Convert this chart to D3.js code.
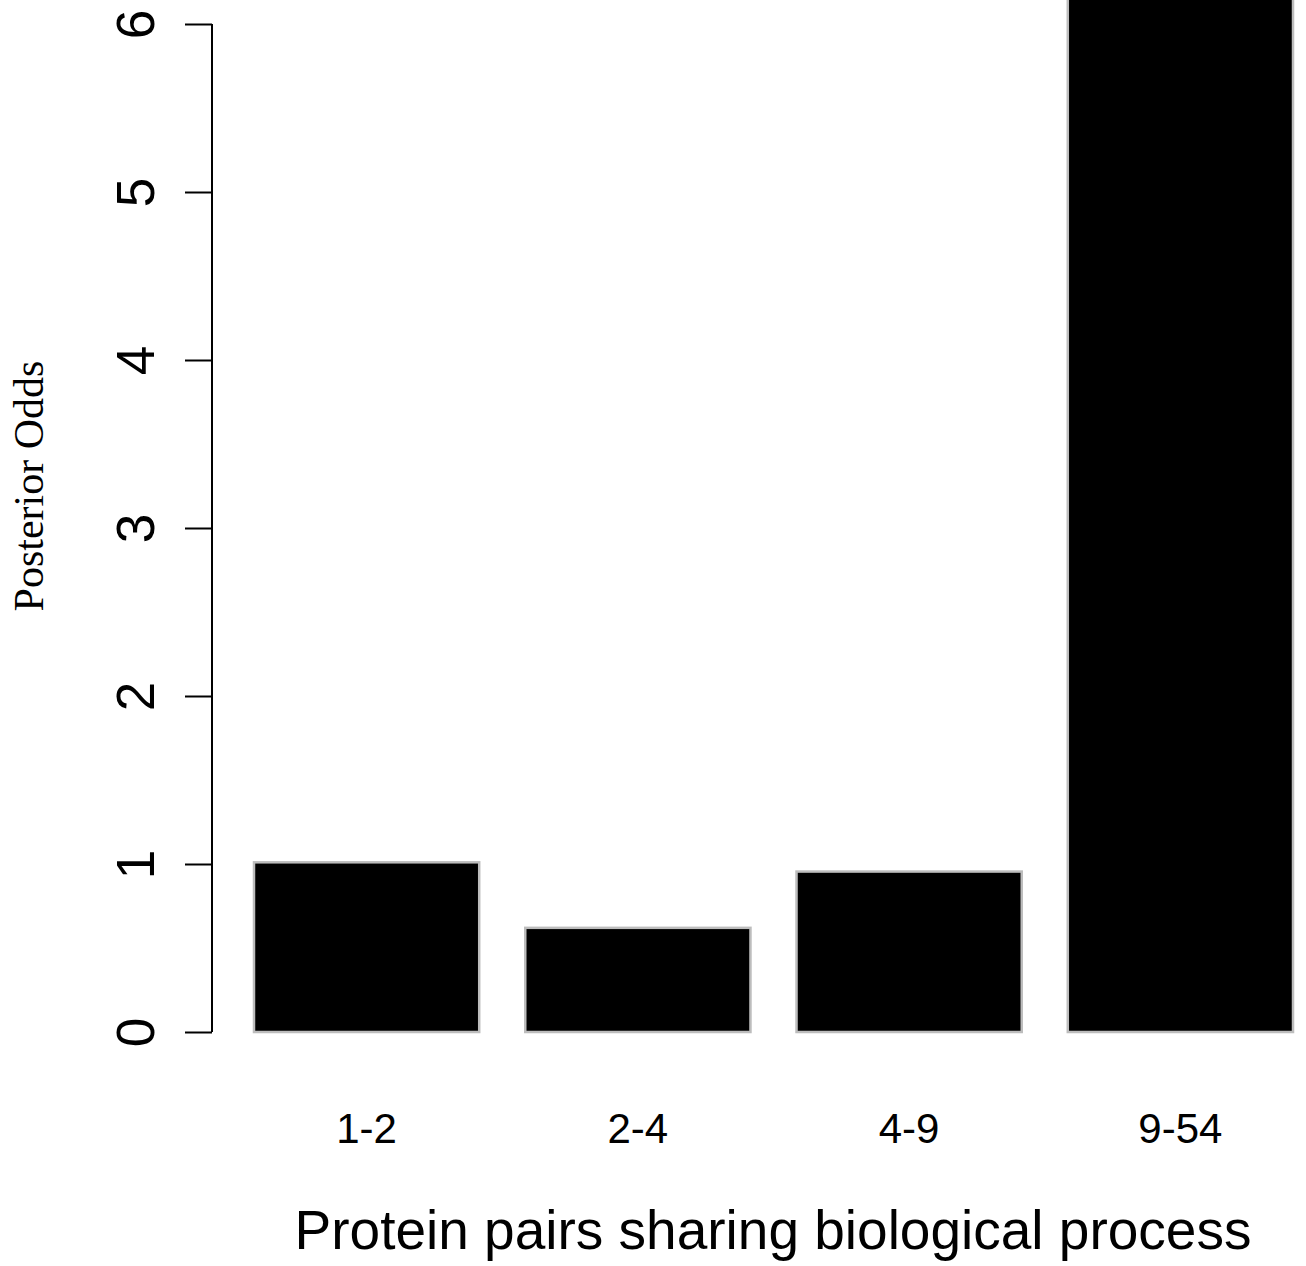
<!DOCTYPE html>
<html>
<head>
<meta charset="utf-8">
<script src="https://cdn.jsdelivr.net/npm/d3@7"></script>
<style>
  html, body { margin: 0; padding: 0; background: #fff; }
  svg { display: block; }
</style>
</head>
<body>
<script>
// Posterior odds by number of protein pairs sharing a biological process
const categories = ["1-2", "2-4", "4-9", "9-54"];
const posteriorOdds = [1.01, 0.62, 0.955, 7.2];
const yTicks = [0, 1, 2, 3, 4, 5, 6];
const xTitle = "Protein pairs sharing biological process";
const yTitle = "Posterior Odds";

const W = 1306, H = 1266;
const svg = d3.select("body").append("svg")
  .attr("width", W).attr("height", H);

const y = d3.scaleLinear().domain([0, 6]).range([1032, 24]);
const x = d3.scaleBand().domain(categories)
  .range([254, 1293]).paddingInner(46 / 271).paddingOuter(0);

// bars (the last one runs past the top of the plot region)
svg.append("g").selectAll("rect")
  .data(categories.map((c, i) => ({ c, v: posteriorOdds[i] })))
  .join("rect")
  .attr("x", d => x(d.c))
  .attr("width", x.bandwidth())
  .attr("y", d => y(d.v))
  .attr("height", d => y(0) - y(d.v))
  .attr("fill", "#000")
  .attr("stroke", "#bdbdbd")
  .attr("stroke-width", 2.5);

// y axis
const yAxis = svg.append("g")
  .attr("transform", "translate(212,0)")
  .call(d3.axisLeft(y).tickValues(yTicks).tickFormat(d3.format("d"))
    .tickSize(27).tickPadding(0).tickSizeOuter(0));
yAxis.select(".domain").attr("stroke", "#000").attr("stroke-width", 2)
  .attr("d", `M0,${y(0)}V${y(6)}`);
yAxis.selectAll(".tick line").attr("stroke", "#000").attr("stroke-width", 2);
yAxis.selectAll(".tick text")
  .attr("x", null).attr("dy", null)
  .attr("transform", "translate(-58,0) rotate(-90)")
  .attr("text-anchor", "middle")
  .attr("fill", "#000")
  .style("font-family", "'Liberation Sans', Arial, sans-serif")
  .style("font-size", "53px");

// category labels
svg.append("g").selectAll("text")
  .data(categories)
  .join("text")
  .attr("x", d => x(d) + x.bandwidth() / 2)
  .attr("y", 1143)
  .attr("text-anchor", "middle")
  .style("font-family", "'Liberation Sans', Arial, sans-serif")
  .style("font-size", "42px")
  .text(d => d);

// axis titles
svg.append("text")
  .attr("x", 773).attr("y", 1249)
  .attr("text-anchor", "middle")
  .style("font-family", "'Liberation Sans', Arial, sans-serif")
  .style("font-size", "55px")
  .text(xTitle);

svg.append("text")
  .attr("transform", "translate(43,486) rotate(-90)")
  .attr("text-anchor", "middle")
  .style("font-family", "'Liberation Serif', 'Times New Roman', serif")
  .style("font-size", "42px")
  .text(yTitle);
</script>
</body>
</html>
